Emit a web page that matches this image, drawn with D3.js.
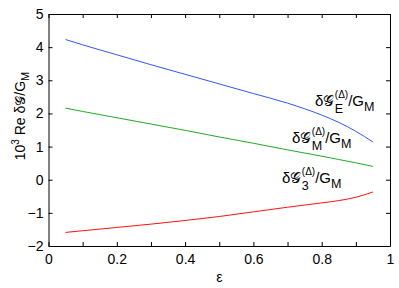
<!DOCTYPE html>
<html lang="en">
<head>
<meta charset="UTF-8">
<title>Re dG / GM vs epsilon</title>
<script src="https://cdn.jsdelivr.net/npm/d3@7"></script>
<style>
  body { margin: 0; background: #fff; font-family: "Liberation Sans", Arial, sans-serif; }
  svg { display: block; }
</style>
</head>
<body>
<div id="chart"></div>
<script>
// data
var eps = [0.05, 0.1, 0.2, 0.3, 0.4, 0.5, 0.6, 0.7, 0.8, 0.85, 0.9, 0.95];
var gE  = [4.23, 4.07, 3.77, 3.47, 3.18, 2.89, 2.60, 2.31, 1.95, 1.73, 1.46, 1.14];
var gM  = [2.16, 2.06, 1.87, 1.68, 1.49, 1.29, 1.10, 0.90, 0.71, 0.61, 0.51, 0.40];
var g3  = [-1.59, -1.54, -1.44, -1.34, -1.23, -1.11, -0.97, -0.83, -0.70, -0.63, -0.53, -0.37];
var xTicks = [0, 0.1, 0.2, 0.3, 0.4, 0.5, 0.6, 0.7, 0.8, 0.9, 1];
var yTicks = [-2, -1, 0, 1, 2, 3, 4, 5];

var W = 399, H = 288;
var margin = { top: 14, right: 9, bottom: 42, left: 48.5 };
var width = W - margin.left - margin.right;
var height = H - margin.top - margin.bottom;

var svg = d3.select("#chart").append("svg")
    .attr("width", W).attr("height", H)
    .append("g")
    .attr("transform", "translate(" + margin.left + "," + margin.top + ")");

var x = d3.scaleLinear().domain([0, 1]).range([0, width]);
var y = d3.scaleLinear().domain([-2, 5]).range([height, 0]);

// box, ticks pointing inward on all four sides
function styleAxis(g) {
    g.select(".domain").attr("stroke", "#000").attr("stroke-width", 1);
    g.selectAll(".tick line").attr("stroke", "#000");
    g.selectAll("text").attr("font-size", 14).attr("fill", "#000")
        .attr("font-family", "'Liberation Sans', Arial, sans-serif");
}
var fmtX = function (d) { return (Math.round(d * 10) % 2 === 0) ? d3.format("~g")(d) : ""; };
var fmtY = function (d) { return d < 0 ? "\u2212" + (-d) : String(d); };

svg.append("g").attr("transform", "translate(0," + height + ")")
    .call(d3.axisBottom(x).tickValues(xTicks).tickSize(-4).tickSizeOuter(0).tickPadding(8.5).tickFormat(fmtX))
    .call(styleAxis);
svg.append("g")
    .call(d3.axisTop(x).tickValues(xTicks).tickSize(-4).tickSizeOuter(0).tickFormat(""))
    .call(styleAxis);
svg.append("g")
    .call(d3.axisLeft(y).tickValues(yTicks).tickSize(-4).tickSizeOuter(0).tickPadding(5).tickFormat(fmtY))
    .call(styleAxis);
svg.append("g").attr("transform", "translate(" + width + ",0)")
    .call(d3.axisRight(y).tickValues(yTicks).tickSize(-4).tickSizeOuter(0).tickFormat(""))
    .call(styleAxis);

// curves
var line = d3.line().x(function (d) { return x(d[0]); }).y(function (d) { return y(d[1]); })
    .curve(d3.curveMonotoneX);
var series = [
    { vals: gE, color: "#3355ff" },
    { vals: gM, color: "#22aa22" },
    { vals: g3, color: "#ff1111" }
];
series.forEach(function (s) {
    svg.append("path")
        .datum(d3.zip(eps, s.vals))
        .attr("fill", "none")
        .attr("stroke", s.color)
        .attr("stroke-width", 1)
        .attr("d", line);
});

// curve labels: δG with (Δ) above and subscript below at the same x, then /G_M
var labels = [
    { sub: "E", px: 266.5, py: 92 },
    { sub: "M", px: 243.5, py: 128.5 },
    { sub: "3", px: 233.5, py: 169 }
];
labels.forEach(function (l) {
    var g = svg.append("g").attr("fill", "#000");
    var base = g.append("text").attr("x", l.px).attr("y", l.py).attr("font-size", 15)
        .text("\u03B4\uD835\uDCA2");
    var x1 = l.px + base.node().getComputedTextLength() + 0.5;
    var sup = g.append("text").attr("x", x1).attr("y", l.py - 8).attr("font-size", 10).text("(\u0394)");
    var sub = g.append("text").attr("x", x1).attr("y", l.py + 7).attr("font-size", 12.5).text(l.sub);
    var x2 = x1 + Math.max(sup.node().getComputedTextLength(), sub.node().getComputedTextLength());
    var t = g.append("text").attr("x", x2).attr("y", l.py).attr("font-size", 15);
    t.append("tspan").text("/G");
    t.append("tspan").text("M").attr("font-size", 12.5).attr("dy", 5);
});

// axis titles
svg.append("text")
    .attr("x", width / 2).attr("y", height + 35.5)
    .attr("text-anchor", "middle").attr("font-size", 14).text("\u03B5");

var yl = svg.append("text")
    .attr("transform", "translate(-24," + (height / 2 - 14) + ") rotate(-90)")
    .attr("text-anchor", "middle").attr("font-size", 14);
yl.append("tspan").text("10");
yl.append("tspan").text("3").attr("font-size", 10).attr("dy", -6);
yl.append("tspan").text(" Re \u03B4").attr("dy", 6);
yl.append("tspan").text("\uD835\uDCA2");
yl.append("tspan").text("/G");
yl.append("tspan").text("M").attr("font-size", 11).attr("dy", 4);
</script>
</body>
</html>
